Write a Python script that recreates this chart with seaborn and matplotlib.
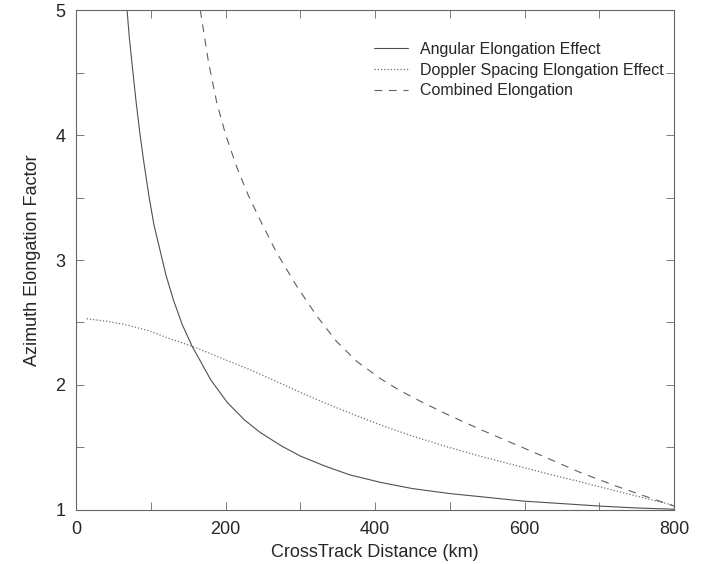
import numpy as np
import pandas as pd
import matplotlib
matplotlib.use("Agg")
import matplotlib.pyplot as plt
from matplotlib.ticker import MultipleLocator
import seaborn as sns

# values
angular_km = [68, 71, 75, 80, 85, 90, 97, 104, 112, 120, 130, 142, 155, 180, 202, 225,
              246, 275, 300, 333, 366, 407, 450, 500, 550, 598, 650, 701, 750, 800]
angular_val = [5.0, 4.78, 4.55, 4.27, 4.02, 3.8, 3.52, 3.28, 3.08, 2.88, 2.68, 2.48, 2.31,
               2.04, 1.86, 1.72, 1.62, 1.51, 1.43, 1.35, 1.28, 1.22, 1.17, 1.13, 1.10,
               1.07, 1.05, 1.03, 1.015, 1.005]

doppler_km = [14, 40, 68, 99, 125, 155, 190, 233, 265, 300, 333, 366, 407, 450, 496,
              540, 585, 630, 674, 720, 763, 800]
doppler_val = [2.53, 2.51, 2.48, 2.43, 2.37, 2.31, 2.225, 2.12, 2.035, 1.94, 1.855, 1.775,
               1.68, 1.59, 1.505, 1.43, 1.36, 1.29, 1.225, 1.155, 1.09, 1.035]

combined_km = [166, 177, 188, 200, 215, 230, 246, 268, 295, 322, 348, 375, 407, 433,
               465, 496, 540, 585, 630, 674, 720, 763, 800]
combined_val = [5.0, 4.58, 4.26, 4.0, 3.74, 3.52, 3.32, 3.06, 2.79, 2.55, 2.35, 2.19,
                2.05, 1.955, 1.855, 1.765, 1.645, 1.53, 1.415, 1.30, 1.195, 1.105, 1.03]

series_names = ["Angular Elongation Effect",
                "Doppler Spacing Elongation Effect",
                "Combined Elongation"]

sns.set_style("ticks")
plt.rcParams['font.family'] = ['Liberation Sans', 'DejaVu Sans']

fig = plt.figure(figsize=(7.06, 5.64), dpi=100)
ax = fig.add_axes([0.108, 0.096, 0.847, 0.886])

sns.lineplot(x=angular_km, y=angular_val, ax=ax, color='#505050', lw=0.8,
             linestyle='-', label=series_names[0])
sns.lineplot(x=doppler_km, y=doppler_val, ax=ax, color='#707070', lw=0.9,
             linestyle=(0, (1, 1.6)), label=series_names[1])
sns.lineplot(x=combined_km, y=combined_val, ax=ax, color='#606060', lw=0.8,
             linestyle=(0, (7, 6)), label=series_names[2])

ax.set_xlim(0, 800)
ax.set_ylim(1, 5)
ax.xaxis.set_major_locator(MultipleLocator(200))
ax.xaxis.set_minor_locator(MultipleLocator(100))
ax.yaxis.set_major_locator(MultipleLocator(1))
ax.yaxis.set_minor_locator(MultipleLocator(0.5))
ax.tick_params(which='both', direction='in', top=True, right=True,
               length=6, width=0.6, color='#666666', labelsize=13, pad=8)
for s in ax.spines.values():
    s.set_linewidth(0.8)
    s.set_color('#666666')

ax.set_xlabel("CrossTrack Distance (km)", fontsize=13, labelpad=4)
ax.set_ylabel("Azimuth Elongation Factor", fontsize=13, labelpad=10)

ax.legend(loc='upper right', frameon=False, fontsize=11.5, handlelength=2.1,
          handletextpad=0.8, labelspacing=0.35, bbox_to_anchor=(1.007, 0.965))

fig.savefig("out.png", dpi=100)
